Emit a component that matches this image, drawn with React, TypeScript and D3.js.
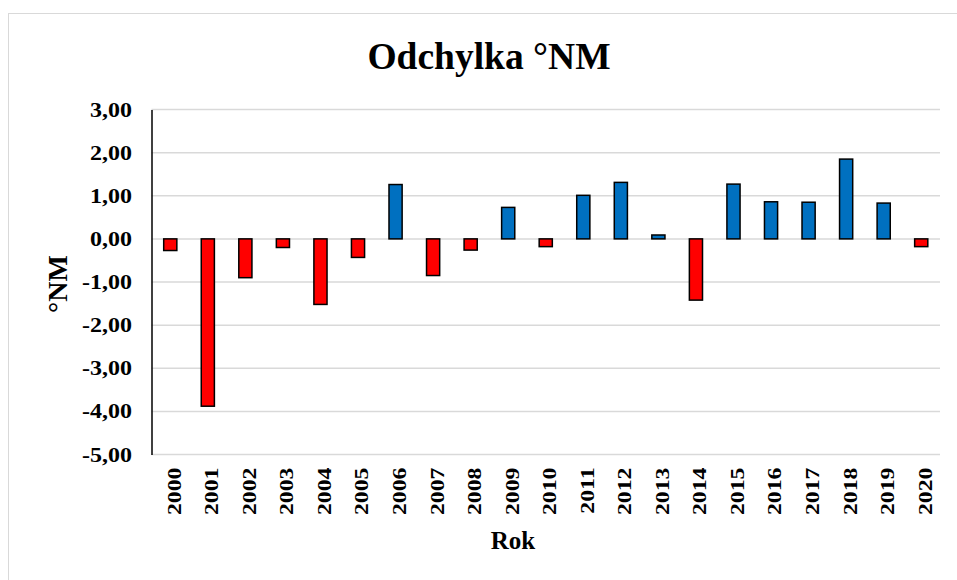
import React, { useRef, useEffect } from "react";
import { select, scaleBand, scaleLinear, axisLeft, axisBottom } from "d3";

const years = ["2000", "2001", "2002", "2003", "2004", "2005", "2006", "2007", "2008", "2009", "2010",
  "2011", "2012", "2013", "2014", "2015", "2016", "2017", "2018", "2019", "2020"];
const values = [-0.27, -3.88, -0.9, -0.2, -1.52, -0.43, 1.26, -0.85, -0.26, 0.73, -0.18,
  1.01, 1.31, 0.09, -1.42, 1.27, 0.86, 0.85, 1.85, 0.83, -0.18];
const yTicks = [3, 2, 1, 0, -1, -2, -3, -4, -5];

const App = () => {
  const svgRef = useRef(null);
  const width = 957;
  const height = 580;
  const margin = { top: 109.5, right: 17, bottom: 125.5, left: 151.5 };

  useEffect(() => {
    const svg = select(svgRef.current);
    svg.selectAll("*").remove();
    const font = "Liberation Serif";

    // widen tick labels a bit, the original font runs wider than Times
    const stretch = (sel, k) => {
      sel.each(function () {
        const len = this.getComputedTextLength();
        select(this).attr("textLength", len * k).attr("lengthAdjust", "spacingAndGlyphs");
      });
    };

    // chart border
    svg.append("rect")
      .attr("x", 8.5).attr("y", 13.5)
      .attr("width", 1000).attr("height", 700)
      .attr("fill", "white")
      .attr("stroke", "#d9d9d9")
      .attr("stroke-width", 1);

    const xScale = scaleBand()
      .domain(years)
      .range([margin.left, width - margin.right])
      .paddingInner(0.65)
      .paddingOuter(0.325);
    const yScale = scaleLinear()
      .domain([-5, 3])
      .range([height - margin.bottom, margin.top]);

    // grid
    svg.append("g")
      .selectAll("line")
      .data(yTicks)
      .join("line")
      .attr("x1", margin.left)
      .attr("x2", width - margin.right)
      .attr("y1", (d) => yScale(d))
      .attr("y2", (d) => yScale(d))
      .attr("stroke", "#d9d9d9")
      .attr("stroke-width", 1.5);

    // y axis
    const yAxis = axisLeft(yScale)
      .tickValues(yTicks)
      .tickSize(0)
      .tickPadding(19.5)
      .tickFormat((d) => Number(d).toFixed(2).replace(".", ","));
    const gy = svg.append("g")
      .attr("transform", "translate(" + margin.left + ",0)")
      .call(yAxis);
    gy.select(".domain").attr("stroke", "#000").attr("stroke-width", 1.5);
    gy.selectAll("text")
      .style("font-family", font)
      .style("font-size", "20.5px")
      .style("font-weight", "bold")
      .attr("fill", "#000")
      .call(stretch, 1.17);

    // x axis labels (rotated)
    const xAxis = axisBottom(xScale).tickSize(0).tickPadding(0);
    const gx = svg.append("g")
      .attr("transform", "translate(0," + yScale(-5) + ")")
      .call(xAxis);
    gx.select(".domain").remove();
    gx.selectAll("text")
      .style("font-family", font)
      .style("font-size", "19px")
      .style("font-weight", "bold")
      .attr("fill", "#000")
      .attr("text-anchor", "end")
      .attr("dy", "0.55em")
      .attr("transform", "translate(0,13) rotate(-90)")
      .call(stretch, 1.25);

    // bars
    svg.append("g")
      .selectAll("rect")
      .data(values)
      .join("rect")
      .attr("x", (d, i) => xScale(years[i]))
      .attr("width", xScale.bandwidth())
      .attr("y", (d) => yScale(Math.max(0, d)))
      .attr("height", (d) => Math.abs(yScale(d) - yScale(0)))
      .attr("fill", (d) => (d < 0 ? "#ff0000" : "#0070c0"))
      .attr("stroke", "#000")
      .attr("stroke-width", 1.5);

    // titles
    svg.append("text")
      .attr("x", 489).attr("y", 69)
      .attr("text-anchor", "middle")
      .style("font-family", font)
      .style("font-size", "37.5px")
      .style("font-weight", "bold")
      .text("Odchylka °NM");

    svg.append("text")
      .attr("x", 513).attr("y", 549)
      .attr("text-anchor", "middle")
      .style("font-family", font)
      .style("font-size", "25px")
      .style("font-weight", "bold")
      .text("Rok");

    svg.append("text")
      .attr("transform", "translate(67,284) rotate(-90)")
      .attr("text-anchor", "middle")
      .style("font-family", font)
      .style("font-size", "28px")
      .style("font-weight", "bold")
      .text("°NM");
  }, []);

  return (
    <svg ref={svgRef} width={width} height={height}
      style={{ position: "absolute", left: 0, top: 0, background: "white" }} />
  );
};

export default App;
